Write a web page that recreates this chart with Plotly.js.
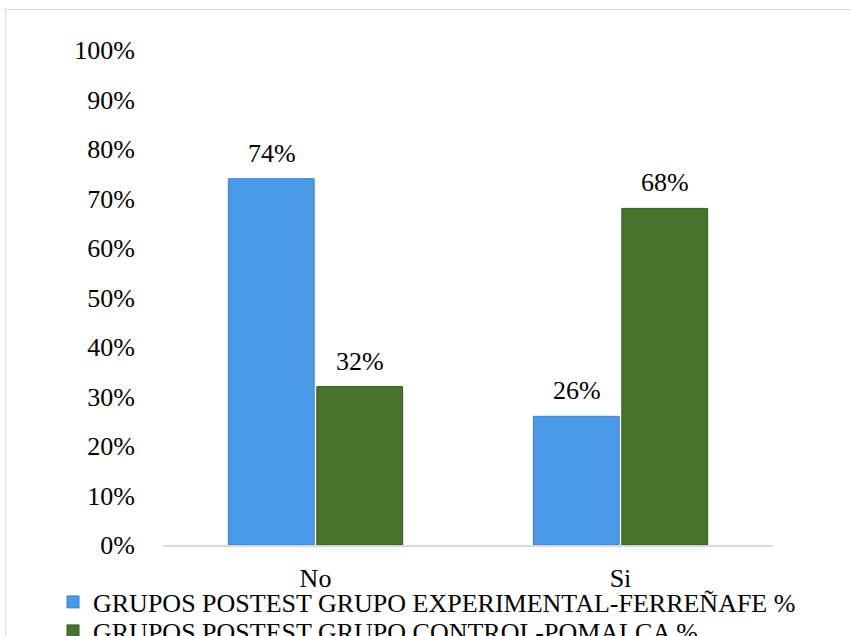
<!DOCTYPE html>
<html>
<head>
<meta charset="utf-8">
<script src="https://cdn.plot.ly/plotly-3.0.1.min.js"></script>
<style>
  html, body { margin: 0; padding: 0; background: #fff; overflow: hidden; }
  #frame { position: absolute; left: 5px; top: 9px; width: 900px; height: 700px; border: 1.5px solid #d9d9d9; }
  #chart { position: absolute; left: 0; top: 0; width: 851px; height: 670px; }
</style>
</head>
<body>
<div id="frame"></div>
<div id="chart"></div>
<script>
const categories = ["No", "Si"];
const seriesNames = [
  "GRUPOS POSTEST GRUPO EXPERIMENTAL-FERREÑAFE %",
  "GRUPOS POSTEST GRUPO CONTROL-POMALCA %"
];
const experimentalValues = [74, 26];
const controlValues = [32, 68];
const yTickValues = [0, 10, 20, 30, 40, 50, 60, 70, 80, 90, 100];

const FONT = "Liberation Serif, Times New Roman, serif";
const W = 851, H = 670;
const colors = ["#4a9ae8", "#47742a"];
const borders = ["#3a7fc4", "#35581d"];
const seriesValues = [experimentalValues, controlValues];

const traces = seriesValues.map((vals, i) => ({
  type: "bar",
  name: seriesNames[i],
  x: categories,
  y: vals,
  marker: { color: colors[i], line: { color: borders[i], width: 1 } },
  legend: i === 0 ? "legend" : "legend2",
  hoverinfo: "skip"
}));

const annotations = [];
seriesValues.forEach((vals, i) => {
  vals.forEach((v, j) => {
    annotations.push({
      xref: "x", yref: "y",
      x: categories[j], y: v,
      text: v + "%",
      showarrow: false,
      xanchor: "center", yanchor: "bottom",
      xshift: i === 0 ? -44 : 44,
      yshift: 9,
      font: { family: FONT, size: 26, color: "#000" }
    });
  });
});

const legendBase = {
  orientation: "v",
  xanchor: "left",
  yanchor: "middle",
  x: 53 / W,
  bgcolor: "rgba(0,0,0,0)",
  borderwidth: 0,
  font: { family: FONT, size: 26, color: "#000" },
  itemclick: false,
  itemdoubleclick: false
};

const layout = {
  width: W,
  height: H,
  margin: { l: 0, r: 0, t: 0, b: 0 },
  paper_bgcolor: "rgba(0,0,0,0)",
  plot_bgcolor: "rgba(0,0,0,0)",
  font: { family: FONT, size: 26, color: "#000" },
  barmode: "group",
  bargap: 0.42,
  bargroupgap: 0.03,
  xaxis: {
    type: "category",
    domain: [163 / W, 773 / W],
    showline: true,
    linecolor: "#d9d9d9",
    linewidth: 2,
    ticks: "",
    showgrid: false,
    zeroline: false,
    automargin: false,
    tickfont: { family: FONT, size: 26, color: "#000" },
    ticklabelstandoff: 9
  },
  yaxis: {
    domain: [1 - 545 / H, 1 - 50 / H],
    range: [0, 100],
    tickvals: yTickValues,
    ticktext: yTickValues.map(v => v + "%"),
    showgrid: false,
    zeroline: false,
    showline: false,
    ticks: "",
    automargin: false,
    tickfont: { family: FONT, size: 26, color: "#000" },
    ticklabelstandoff: 27
  },
  showlegend: true,
  legend: Object.assign({}, legendBase, { y: 1 - 602 / H }),
  legend2: Object.assign({}, legendBase, { y: 1 - 631 / H }),
  annotations: annotations
};

Plotly.newPlot("chart", traces, layout, { displayModeBar: false, staticPlot: true });
</script>
</body>
</html>
